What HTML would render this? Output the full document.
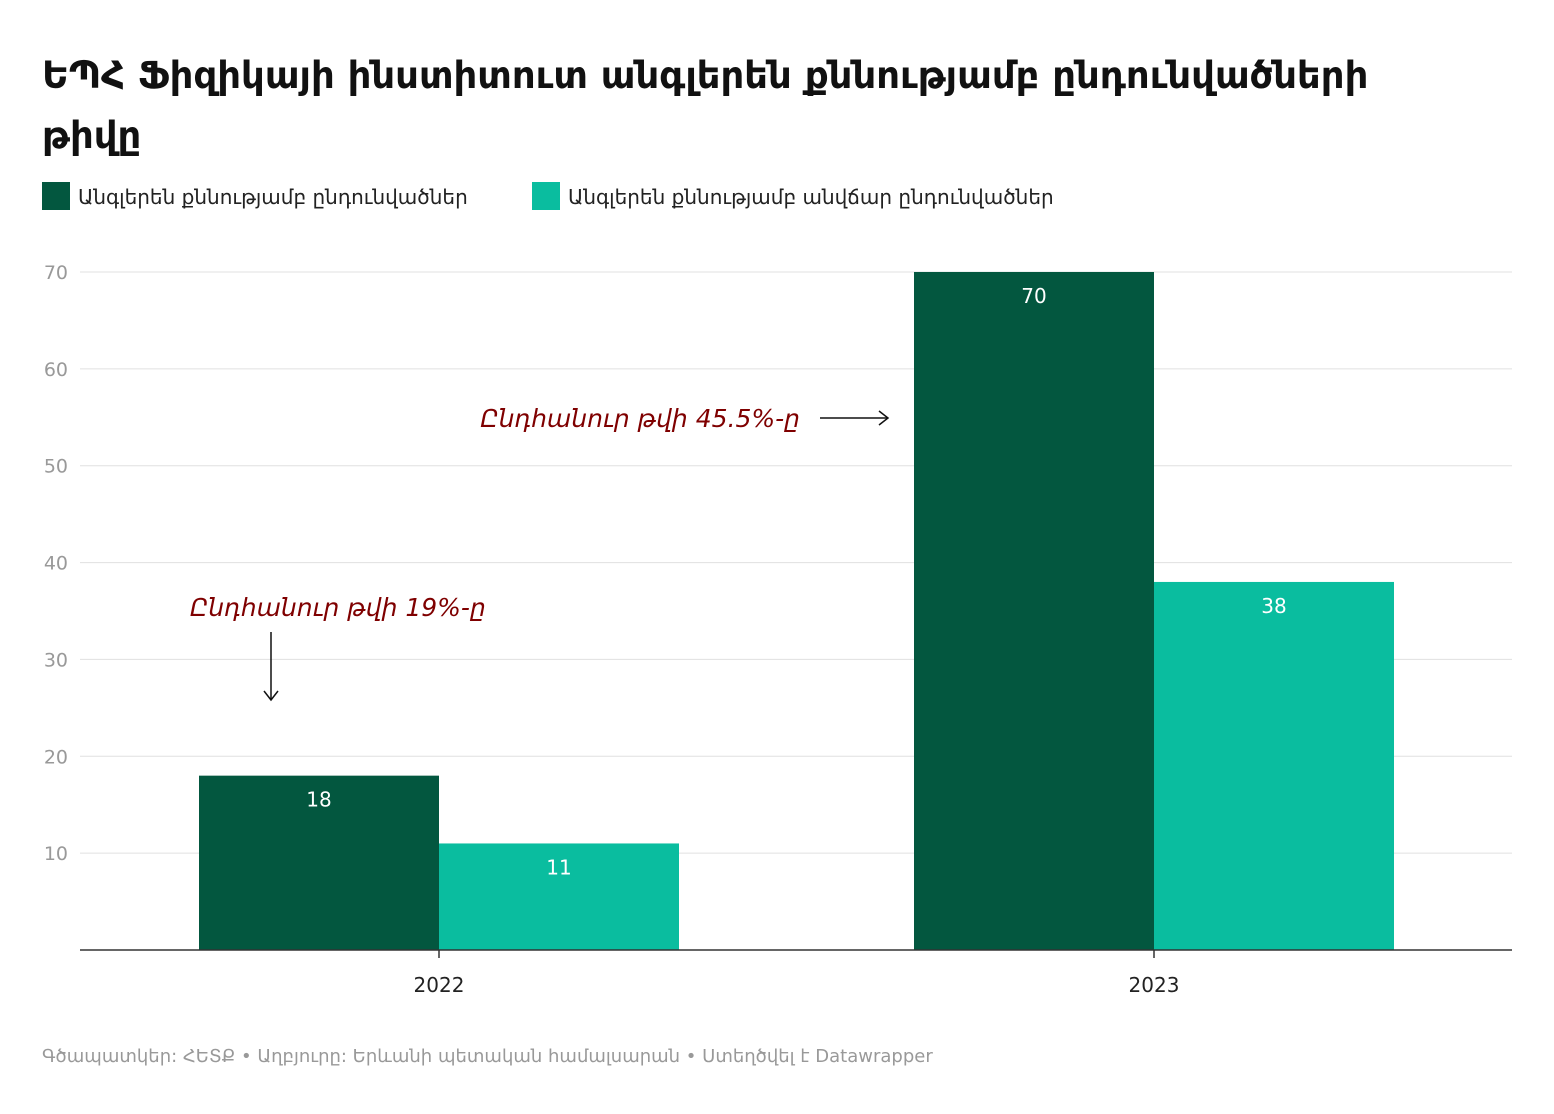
<!DOCTYPE html>
<html><head><meta charset="utf-8"><style>
body{margin:0;background:#fff;width:1554px;height:1110px;overflow:hidden;font-family:"DejaVu Sans","Liberation Sans",sans-serif;}
</style></head><body>
<svg width="1554" height="1110" xmlns="http://www.w3.org/2000/svg">
<text x="42" y="88" font-size="37" font-weight="bold" fill="#111" font-family="DejaVu Sans, sans-serif">ԵՊՀ Ֆիզիկայի ինստիտուտ անգլերեն քննությամբ ընդունվածների</text>
<text x="42" y="148" font-size="37" font-weight="bold" fill="#111" font-family="DejaVu Sans, sans-serif">թիվը</text>
<g font-size="20" fill="#222">
<rect x="42" y="182" width="28" height="28" fill="#03573f"/>
<text x="78" y="204">Անգլերեն քննությամբ ընդունվածներ</text>
<rect x="532" y="182" width="28" height="28" fill="#0abd9f"/>
<text x="568" y="204">Անգլերեն քննությամբ անվճար ընդունվածներ</text>
</g>
<g id="grid"></g>
<g id="bars"></g>
<line x1="80" y1="950" x2="1512" y2="950" stroke="#333" stroke-width="1.5"/>
<g id="xticks"></g>
<g>
<text x="800" y="427" font-size="25" font-style="italic" fill="#7f0000" text-anchor="end">Ընդհանուր թվի 45.5%-ը</text>
<line x1="820" y1="418" x2="887" y2="418" stroke="#111" stroke-width="1.5"/>
<path d="M879 411 L888 418 L879 425" fill="none" stroke="#111" stroke-width="1.5"/>
</g>
<g>
<text x="190" y="616" font-size="25" font-style="italic" fill="#7f0000">Ընդհանուր թվի 19%-ը</text>
<line x1="271" y1="632" x2="271" y2="699" stroke="#111" stroke-width="1.5"/>
<path d="M264 691 L271 700 L278 691" fill="none" stroke="#111" stroke-width="1.5"/>
</g>
<text x="42" y="1062" font-size="18" fill="#999">Գծապատկեր: ՀԵՏՔ • Աղբյուրը: Երևանի պետական համալսարան • Ստեղծվել է Datawrapper</text>
</svg>
<script>
const categories=["2022","2023"];
const seriesAll=[18,70];
const seriesFree=[11,38];
const yTicks=[10,20,30,40,50,60,70];
const NS="http://www.w3.org/2000/svg";
const y=v=>950-v*(950-272)/70;
const xCenter=i=>439+i*715;
const bw=240;
function mk(t,a,p){const e=document.createElementNS(NS,t);for(const k in a)e.setAttribute(k,a[k]);p.appendChild(e);return e;}
const grid=document.getElementById('grid');
yTicks.forEach(v=>{
 const l=mk('line',{x1:80,x2:1512,y1:y(v),y2:y(v),stroke:'#e0e0e0','stroke-width':1},grid);
 
 
 const t=mk('text',{x:68,y:y(v)+7,'font-size':19,fill:'#999','text-anchor':'end'},grid);
 
 
 t.textContent=v;
});
const bars=document.getElementById('bars');
function bar(x,v,c){
 const r=mk('rect',{x:x,y:y(v),width:bw,height:950-y(v),fill:c},bars);
 
 
 const t=mk('text',{x:x+bw/2,y:y(v)+31,'font-size':20,fill:'#fff','text-anchor':'middle'},bars);
 
 
 t.textContent=v;
}
const xt=document.getElementById('xticks');
categories.forEach((c,i)=>{
 bar(xCenter(i)-bw,seriesAll[i],'#03573f');
 bar(xCenter(i),seriesFree[i],'#0abd9f');
 const l=mk('line',{x1:xCenter(i),x2:xCenter(i),y1:950,y2:958,stroke:'#333','stroke-width':1.5},xt);
 
 
 const t=mk('text',{x:xCenter(i),y:992,'font-size':20,fill:'#222','text-anchor':'middle'},xt);
 
 
 t.textContent=c;
});
</script>
</body></html>
